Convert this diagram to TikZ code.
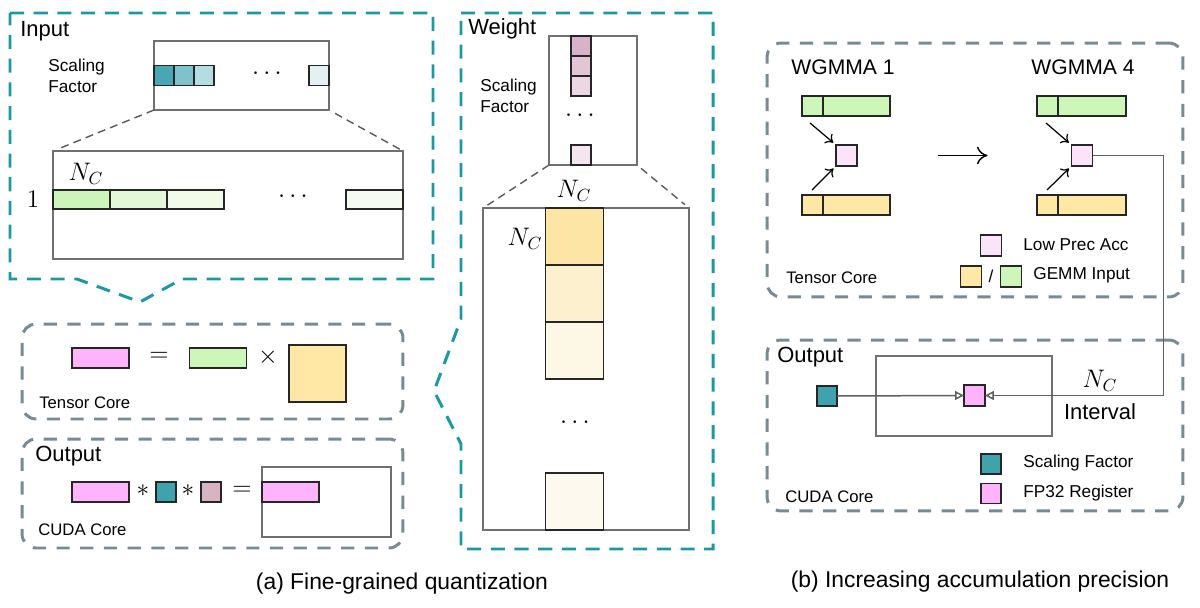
\documentclass[tikz,border=0pt]{standalone}
\usepackage[no-math]{fontspec}
\setmainfont{Liberation Sans}
\usetikzlibrary{positioning,arrows.meta}

\definecolor{frameteal}{RGB}{26,152,163}
\definecolor{coregray}{RGB}{120,138,148}
\definecolor{holdgray}{RGB}{112,112,112}
\definecolor{accpink}{RGB}{255,179,251}
\definecolor{lowpink}{RGB}{251,228,250}
\definecolor{ingreen}{RGB}{205,247,185}
\definecolor{inyellow}{RGB}{255,231,166}
\definecolor{sfteal}{RGB}{63,163,174}
\definecolor{sfmauve}{RGB}{215,180,196}
% gradients of the scaling blocks
\definecolor{tealA}{RGB}{73,167,181}
\definecolor{tealB}{RGB}{127,194,203}
\definecolor{tealC}{RGB}{179,221,226}
\definecolor{tealD}{RGB}{227,241,244}
\definecolor{greenA}{RGB}{205,245,185}
\definecolor{greenB}{RGB}{227,248,217}
\definecolor{greenC}{RGB}{241,251,234}
\definecolor{greenD}{RGB}{246,251,242}
\definecolor{mauveA}{RGB}{216,178,200}
\definecolor{mauveB}{RGB}{227,198,214}
\definecolor{mauveC}{RGB}{236,215,227}
\definecolor{mauveD}{RGB}{243,230,238}
\definecolor{yellowA}{RGB}{253,229,166}
\definecolor{yellowB}{RGB}{253,240,207}
\definecolor{yellowC}{RGB}{253,247,230}
\definecolor{yellowD}{RGB}{253,249,239}

\begin{document}
\begin{tikzpicture}[x=0.02cm,y=-0.02cm,
    frame/.style={draw=frameteal,line width=1.7pt,dash pattern=on 8pt off 5.5pt},
    core box/.style={draw=coregray,line width=1.7pt,dash pattern=on 7.5pt off 6pt,
        rounded corners=8pt,inner sep=0,outer sep=0},
    holder/.style={draw=holdgray,line width=0.85pt,inner sep=0,outer sep=0},
    cell/.style={draw=black!85,line width=1pt,inner sep=0,outer sep=0},
    sq/.style={cell,minimum size=0.4cm},
    bar/.style={cell,minimum width=1.14cm,minimum height=0.38cm},
    big/.style={cell,minimum width=1.16cm,minimum height=1.14cm},
    head/.style={font=\fontsize{12.5}{15}\selectfont,inner sep=0},
    sub/.style={font=\fontsize{12}{14}\selectfont,inner sep=0},
    note/.style={font=\fontsize{9.8}{12}\selectfont,inner sep=0,align=left},
    sym/.style={font=\fontsize{14}{16}\selectfont,inner sep=0},
    zoomline/.style={draw=black!65,line width=0.8pt,dash pattern=on 4.5pt off 3pt},
    arr/.style={-{To[length=4pt,width=7pt]},line width=0.7pt},
    feed/.style={draw=holdgray!85!black,line width=0.85pt,-{Triangle[open,length=5pt,width=5pt]}}]

    \useasboundingbox (0,0) rectangle (1200,608);

    % Input block
    \draw[frame] (10,13) -- (433,13) -- (433,279) -- (182,279) -- (140,302)
        -- (77,279) -- (10,279) -- cycle;
    \node[head,anchor=west] (intitle) at (20,31) {Input};
    \node[note,anchor=west] (insftext) at (48,76) {Scaling\\Factor};
    \node[holder,minimum width=3.5cm,minimum height=1.38cm] (insf) at (241.5,75.5) {};
    \node[sq,fill=tealA,right=0pt of insf.west] (s1) {};
    \node[sq,fill=tealB,right=0pt of s1] (s2) {};
    \node[sq,fill=tealC,right=0pt of s2] (s3) {};
    \node[sq,fill=tealD,left=0pt of insf.east] (s4) {};
    \node[sym] (sdots) at (267,74) {$\cdots$};

    \node[holder,minimum width=7cm,minimum height=2.16cm] (inblk) at (228,205) {};
    \node[bar,fill=greenA,anchor=west] (g1) at (53,199.5) {};
    \node[bar,fill=greenB,right=0pt of g1] (g2) {};
    \node[bar,fill=greenC,right=0pt of g2] (g3) {};
    \node[bar,fill=greenD,anchor=east] (g4) at (403,199.5) {};
    \node[sym] (gdots) at (293,197) {$\cdots$};
    \node[sym] (inNc) at (86,174) {$N_C$};
    \node[sym,font=\fontsize{15}{17}\selectfont] (inone) at (33,199) {$1$};

    \draw[zoomline,shorten >=3pt] (insf.south west) -- (inblk.north west);
    \draw[zoomline,shorten <=4pt] (insf.south east) -- (inblk.north east);

    % Weight block
    \draw[frame] (461,13) -- (713,13) -- (713,549) -- (461,549) -- (461,444)
        -- (434,391) -- (461,319) -- cycle;
    \node[head,anchor=west] (wtitle) at (468,29) {Weight};
    \node[note,anchor=west] (wsftext) at (480,96) {Scaling\\Factor};
    \node[holder,minimum width=1.76cm,minimum height=2.58cm] (wsf) at (593,100.5) {};
    \node[sq,fill=mauveA,anchor=north] (m1) at (581,36) {};
    \node[sq,fill=mauveB,below=0pt of m1] (m2) {};
    \node[sq,fill=mauveC,below=0pt of m2] (m3) {};
    \node[sq,fill=mauveD,anchor=south] (m4) at (581,165) {};
    \node[sym] (mdots) at (580,116) {$\cdots$};

    \node[holder,minimum width=4.12cm,minimum height=6.44cm] (wblk) at (586,369) {};
    \node[big,fill=yellowA,anchor=north] (y1) at (574.5,208) {};
    \node[big,fill=yellowB,below=0pt of y1] (y2) {};
    \node[big,fill=yellowC,below=0pt of y2] (y3) {};
    \node[big,fill=yellowD,anchor=south] (y4) at (574.5,530) {};
    \node[sym] (ydots) at (575,423) {$\cdots$};
    \node[sym] (wNctop) at (574,191) {$N_C$};
    \node[sym] (wNcleft) at (525,239) {$N_C$};

    \draw[zoomline,shorten >=3pt] (wsf.south west) -- (wblk.north west);
    \draw[zoomline,shorten <=3pt,shorten >=3pt] (wsf.south east) -- (wblk.north east);

    % Tensor Core (a)
    \node[core box,minimum width=7.62cm,minimum height=1.9cm] (tca) at (212.5,371.5) {};
    \node[bar,minimum height=0.4cm,fill=accpink] (ta) at (100.5,358) {};
    \node[sym] (teq) at (159,357) {$=$};
    \node[bar,minimum height=0.4cm,fill=ingreen] (tb) at (218,358) {};
    \node[sym] (ttimes) at (268,357) {$\times$};
    \node[big,minimum width=1.14cm,fill=inyellow] (tc) at (317.5,373.5) {};
    \node[note,font=\fontsize{9.5}{11}\selectfont,anchor=west] (tcatext) at (39,403) {Tensor Core};

    % CUDA Core (a)
    \node[core box,minimum width=7.62cm,minimum height=2.18cm] (cca) at (212.5,493.5) {};
    \node[head,anchor=west] (outa) at (35,456) {Output};
    \node[bar,minimum height=0.4cm,fill=accpink] (oa) at (100.5,492) {};
    \node[sym] (oast1) at (143,491) {$\ast$};
    \node[sq,fill=sfteal] (ob) at (166,492) {};
    \node[sym] (oast2) at (188,491) {$\ast$};
    \node[sq,fill=sfmauve] (oc) at (211,492) {};
    \node[sym] (oeq) at (242,491) {$=$};
    \node[holder,minimum width=2.58cm,minimum height=1.4cm] (oblk) at (326.5,502) {};
    \node[bar,minimum height=0.4cm,fill=accpink,anchor=west] (od) at (262,492) {};
    \node[note,font=\fontsize{9.5}{11}\selectfont,anchor=west] (ccatext) at (38,530) {CUDA Core};

    \node[head,font=\fontsize{13}{15}\selectfont] (capa) at (402,584) {(a) Fine-grained quantization};

    % Tensor Core (b)
    \node[core box,minimum width=8.32cm,minimum height=5.08cm] (tcb) at (975,170) {};
    \node[sub] (wg1) at (843,67) {WGMMA 1};
    \node[sub] (wg4) at (1083,67) {WGMMA 4};

    \node[cell,fill=ingreen,minimum width=0.42cm,minimum height=0.4cm,anchor=west] (a1g) at (802,106) {};
    \node[cell,fill=ingreen,minimum width=1.34cm,minimum height=0.4cm,right=0pt of a1g] (b1g) {};
    \node[cell,fill=inyellow,minimum width=0.42cm,minimum height=0.4cm,anchor=west] (a1y) at (802,205) {};
    \node[cell,fill=inyellow,minimum width=1.34cm,minimum height=0.4cm,right=0pt of a1y] (b1y) {};
    \node[sq,fill=lowpink,minimum size=0.42cm] (acc1) at (846.5,155.5) {};

    \node[cell,fill=ingreen,minimum width=0.42cm,minimum height=0.4cm,anchor=west] (a4g) at (1037,106) {};
    \node[cell,fill=ingreen,minimum width=1.36cm,minimum height=0.4cm,right=0pt of a4g] (b4g) {};
    \node[cell,fill=inyellow,minimum width=0.42cm,minimum height=0.4cm,anchor=west] (a4y) at (1037,205) {};
    \node[cell,fill=inyellow,minimum width=1.36cm,minimum height=0.4cm,right=0pt of a4y] (b4y) {};
    \node[sq,fill=lowpink,minimum size=0.42cm] (acc4) at (1082,155.5) {};

    \coordinate (t1g) at (810,123);
    \coordinate (t1y) at (812,190);
    \coordinate (t4g) at (1046,123);
    \coordinate (t4y) at (1047,190);

    \draw[arr,shorten >=2pt] (t1g) -- (acc1.north west);
    \draw[arr,shorten >=2pt] (t1y) -- (acc1.south west);
    \draw[arr,shorten >=2pt] (t4g) -- (acc4.north west);
    \draw[arr,shorten >=2pt] (t4y) -- (acc4.south west);
    \draw[-{To[length=6pt,width=10pt]},line width=0.8pt,shorten <=1.62cm,shorten >=1.68cm]
        (acc1.east) -- (acc4.west);

    % legend (b), Tensor Core
    \node[sq,fill=lowpink,minimum size=0.42cm] (lglow) at (991,245.5) {};
    \node[note,anchor=west] (lglowtext) at (1023,245) {Low Prec Acc};
    \node[sq,fill=inyellow,minimum size=0.42cm] (lgy) at (971,276.5) {};
    \node[note] (lgslash) at (991,276) {/};
    \node[sq,fill=ingreen,minimum size=0.42cm] (lgg) at (1011,276.5) {};
    \node[note,anchor=west] (lggtext) at (1033,275) {GEMM Input};
    \node[note,font=\fontsize{9.5}{11}\selectfont,anchor=west] (tcbtext) at (786,278) {Tensor Core};

    % CUDA Core (b)
    \node[core box,minimum width=8.32cm,minimum height=3.42cm] (ccb) at (975,425.5) {};
    \node[head,anchor=west] (outb) at (777,357) {Output};
    \node[holder,minimum width=3.52cm,minimum height=1.6cm] (interval) at (964,396) {};
    \node[sq,fill=sfteal] (bsf) at (827,396) {};
    \node[sq,fill=accpink,minimum size=0.42cm] (reg) at (974.5,395.5) {};
    \node[sym] (bNc) at (1100,381) {$N_C$};
    \node[head] (bint) at (1100,412) {Interval};

    \draw[feed] (bsf.east) -- (reg.west);
    \draw[feed] (acc4.east) -- ++(71,0) |- (reg.east);

    % legend (b), CUDA Core
    \node[sq,fill=sfteal] (lgsf) at (991,464) {};
    \node[note,anchor=west] (lgsftext) at (1023,463) {Scaling Factor};
    \node[sq,fill=accpink] (lgreg) at (991,493.5) {};
    \node[note,anchor=west] (lgregtext) at (1023,493) {FP32 Register};
    \node[note,font=\fontsize{9.5}{11}\selectfont,anchor=west] (ccbtext) at (785,497) {CUDA Core};

    \node[head,font=\fontsize{13}{15}\selectfont] (capb) at (980,582) {(b) Increasing accumulation precision};

\end{tikzpicture}
\end{document}
